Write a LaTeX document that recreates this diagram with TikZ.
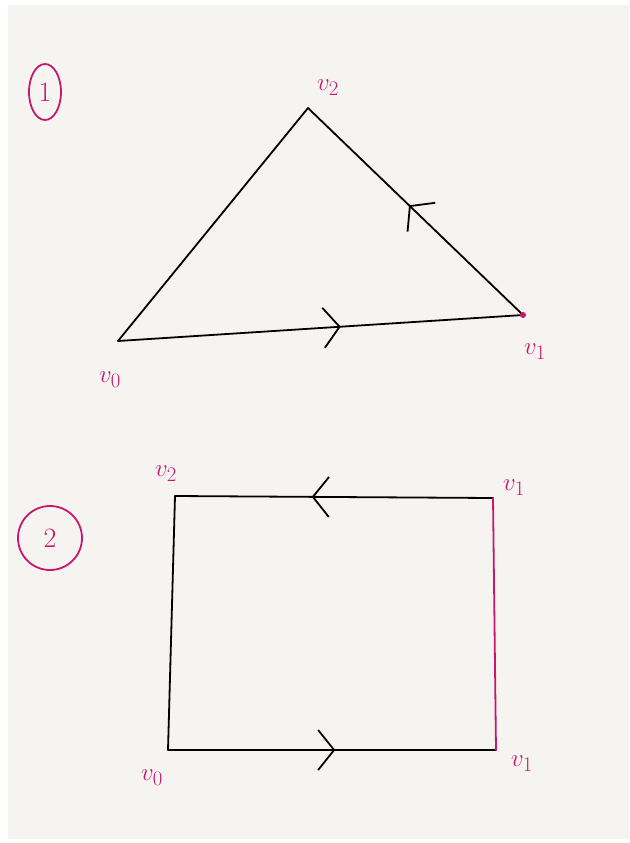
\documentclass[tikz,border=0pt]{standalone}
\usetikzlibrary{arrows.meta,decorations.markings,shapes.geometric}
\definecolor{pen}{HTML}{C8186E}
\definecolor{paper}{HTML}{F6F4F0}
\tikzset{
  edge/.style={line width=1.8pt, line cap=round, line join=round},
  midarrow/.style={postaction={decorate}, decoration={markings,
     mark=at position #1 with {\arrow[line width=1.8pt]{Straight Barb[length=16pt,width=40pt]}}}},
  lab/.style={text=pen, font=\fontsize{30}{30}\selectfont},
  num/.style={draw=pen, line width=1.8pt, text=pen, font=\fontsize{28}{28}\selectfont, inner sep=0pt}
}
\begin{document}
\begin{tikzpicture}[x=1pt,y=-1pt]
\useasboundingbox (0,0) rectangle (629,843);
\fill[white] (0,0) rectangle (629,843);
\fill[paper] (8,5) rectangle (629,839);
% part 1
\node[num, ellipse, minimum width=32pt, minimum height=56pt] (c1) at (45,92) {1};
\coordinate (a0) at (118,341);
\coordinate (a1) at (523,315);
\coordinate (a2) at (308,108);
\draw[edge] (a2) -- (a0);
\draw[edge, midarrow=0.55] (a0) -- (a1);
\draw[edge, midarrow=0.53] (a1) -- (a2);
\fill[pen] (a1) circle (3pt);
\node[lab] (l2) at (328,88) {$v_2$};
\node[lab] (l0) at (110,380) {$v_0$};
\node[lab] (l1) at (535,352) {$v_1$};
% part 2
\node[num, circle, minimum size=64pt] (c2) at (50,538) {2};
\coordinate (b2) at (175,496);
\coordinate (b1t) at (493,498);
\coordinate (b1) at (496,750);
\coordinate (b0) at (168,750);
\draw[edge] (b0) -- (b2);
\draw[edge, midarrow=0.57] (b1t) -- (b2);
\draw[edge, midarrow=0.51] (b0) -- (b1);
\draw[edge, pen] (b1t) -- (b1);
\node[lab] (m2) at (166,474) {$v_2$};
\node[lab] (m1t) at (514,488) {$v_1$};
\node[lab] (m1) at (522,764) {$v_1$};
\node[lab] (m0) at (152,778) {$v_0$};
\end{tikzpicture}
\end{document}
